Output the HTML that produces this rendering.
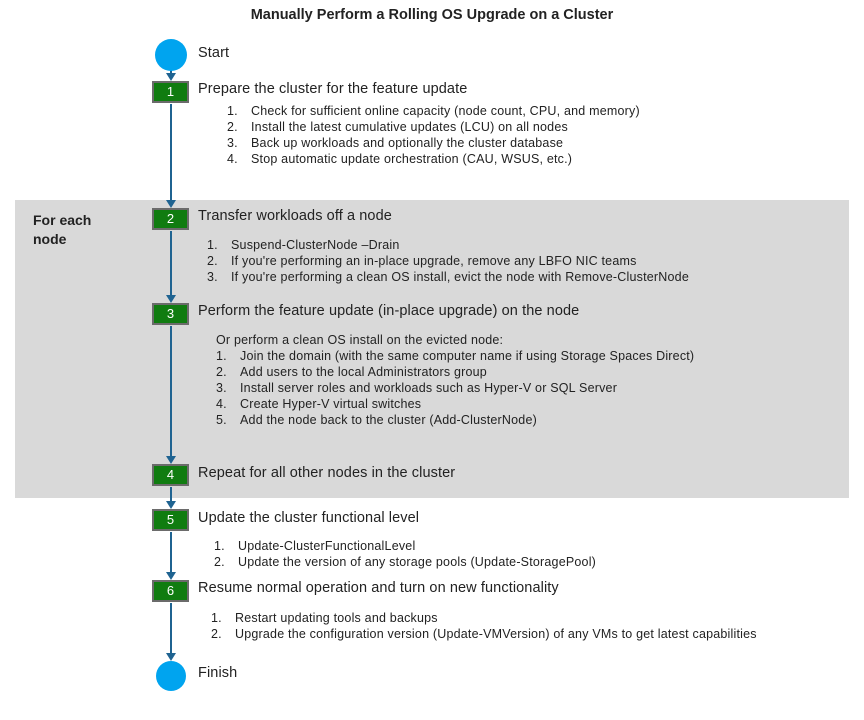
<!DOCTYPE html>
<html><head><meta charset="utf-8"><style>
body{margin:0;width:864px;height:720px;background:#fff;position:relative;font-family:"Liberation Sans",sans-serif;color:#222;overflow:hidden}
.a{position:absolute;white-space:nowrap}
.h{font-size:14.5px;letter-spacing:0.1px}
.l{font-size:12.5px;line-height:16px;letter-spacing:0.2px}
.box{position:absolute;left:152px;width:33px;height:18px;background:#107c10;border:2px solid #6b6b6b;color:#fff;font-size:13px;text-align:center;line-height:18px}
.n{display:inline-block;width:24px}
</style></head><body>
<div class="a" style="left:0;width:864px;top:7px;text-align:center;font-weight:bold;font-size:14.5px">Manually Perform a Rolling OS Upgrade on a Cluster</div>
<div style="position:absolute;left:15px;top:200px;width:834px;height:298px;background:#d9d9d9"></div>
<div class="a" style="left:33px;top:211px;font-weight:bold;font-size:14px;line-height:19px;white-space:normal;width:80px">For each node</div>
<svg style="position:absolute;left:0;top:0" width="864" height="720">
<g stroke="#1f6391" stroke-width="2" fill="none">
<line x1="171" y1="70" x2="171" y2="75"/>
<line x1="171" y1="104" x2="171" y2="202"/>
<line x1="171" y1="231" x2="171" y2="297"/>
<line x1="171" y1="326" x2="171" y2="458"/>
<line x1="171" y1="487" x2="171" y2="503"/>
<line x1="171" y1="532" x2="171" y2="574"/>
<line x1="171" y1="603" x2="171" y2="655"/>
</g>
<g fill="#1f6391">
<path d="M166,73 L176,73 L171,81z"/>
<path d="M166,200 L176,200 L171,208z"/>
<path d="M166,295 L176,295 L171,303z"/>
<path d="M166,456 L176,456 L171,464z"/>
<path d="M166,501 L176,501 L171,509z"/>
<path d="M166,572 L176,572 L171,580z"/>
<path d="M166,653 L176,653 L171,661z"/>
</g>
<circle cx="171" cy="55" r="16" fill="#00a4ef"/>
<circle cx="171" cy="676" r="15" fill="#00a4ef"/>
</svg>
<div class="box" style="top:81px">1</div>
<div class="box" style="top:208px">2</div>
<div class="box" style="top:303px">3</div>
<div class="box" style="top:464px">4</div>
<div class="box" style="top:509px">5</div>
<div class="box" style="top:580px">6</div>
<div class="a h" style="left:198px;top:45px">Start</div>
<div class="a h" style="left:198px;top:81px">Prepare the cluster for the feature update</div>
<div class="a l" style="left:227px;top:103px"><span class="n">1.</span>Check for sufficient online capacity (node count, CPU, and memory)<br><span class="n">2.</span>Install the latest cumulative updates (LCU) on all nodes<br><span class="n">3.</span>Back up workloads and optionally the cluster database<br><span class="n">4.</span>Stop automatic update orchestration (CAU, WSUS, etc.)</div>
<div class="a h" style="left:198px;top:208px">Transfer workloads off a node</div>
<div class="a l" style="left:207px;top:237px"><span class="n">1.</span>Suspend-ClusterNode –Drain<br><span class="n">2.</span>If you're performing an in-place upgrade, remove any LBFO NIC teams<br><span class="n">3.</span>If you're performing a clean OS install, evict the node with Remove-ClusterNode</div>
<div class="a h" style="left:198px;top:303px">Perform the feature update (in-place upgrade) on the node</div>
<div class="a l" style="left:216px;top:332px">Or perform a clean OS install on the evicted node:<br><span class="n">1.</span>Join the domain (with the same computer name if using Storage Spaces Direct)<br><span class="n">2.</span>Add users to the local Administrators group<br><span class="n">3.</span>Install server roles and workloads such as Hyper-V or SQL Server<br><span class="n">4.</span>Create Hyper-V virtual switches<br><span class="n">5.</span>Add the node back to the cluster (Add-ClusterNode)</div>
<div class="a h" style="left:198px;top:465px">Repeat for all other nodes in the cluster</div>
<div class="a h" style="left:198px;top:510px">Update the cluster functional level</div>
<div class="a l" style="left:214px;top:538px"><span class="n">1.</span>Update-ClusterFunctionalLevel<br><span class="n">2.</span>Update the version of any storage pools (Update-StoragePool)</div>
<div class="a h" style="left:198px;top:580px">Resume normal operation and turn on new functionality</div>
<div class="a l" style="left:211px;top:610px"><span class="n">1.</span>Restart updating tools and backups<br><span class="n">2.</span>Upgrade the configuration version (Update-VMVersion) of any VMs to get latest capabilities</div>
<div class="a h" style="left:198px;top:665px">Finish</div>
</body></html>
